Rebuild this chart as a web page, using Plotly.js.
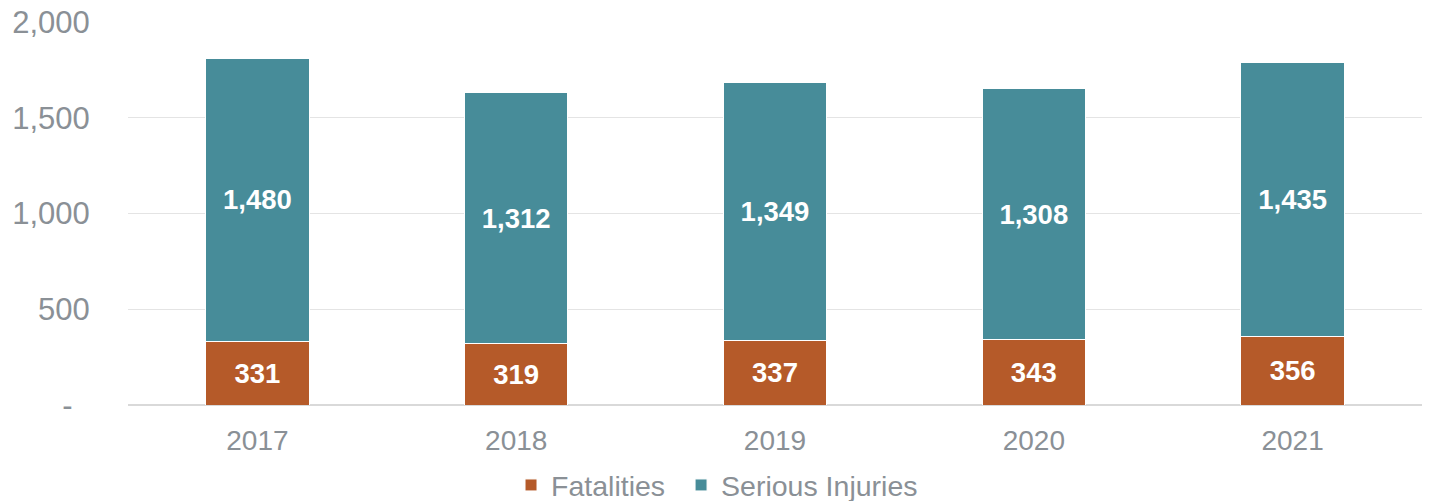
<!DOCTYPE html>
<html>
<head>
<meta charset="utf-8">
<script src="https://cdn.plot.ly/plotly-3.0.1.min.js"></script>
<style>html,body{margin:0;padding:0;background:#fff;}#chart{width:1429px;height:501px;}</style>
</head>
<body>
<div id="chart"></div>
<script>
var years = ["2017", "2018", "2019", "2020", "2021"];
var fatalities = [331, 319, 337, 343, 356];
var seriousInjuries = [1480, 1312, 1349, 1308, 1435];
var yTickVals = [0, 500, 1000, 1500, 2000];
var yTickText = ["-\u00a0\u00a0", "500", "1,000", "1,500", "2,000"];

function fmt(v){ return v.toLocaleString("en-US"); }

var labelFont = {family: "Liberation Sans, Arial, sans-serif", size: 27.5, color: "#ffffff", weight: "bold"};

var traces = [
  {
    type: "bar", name: "Fatalities", x: years, y: fatalities, legend: "legend",
    marker: {color: "#B55A29", line: {color: "#ffffff", width: 1}},
    text: fatalities.map(function(v){return "<b>"+fmt(v)+"</b>";}),
    textposition: "inside", insidetextanchor: "middle", textangle: 0,
    textfont: labelFont, hoverinfo: "skip"
  },
  {
    type: "bar", name: "Serious Injuries", x: years, y: seriousInjuries, legend: "legend2",
    marker: {color: "#478C99", line: {color: "#ffffff", width: 1}},
    text: seriousInjuries.map(function(v){return "<b>"+fmt(v)+"</b>";}),
    textposition: "inside", insidetextanchor: "middle", textangle: 0,
    textfont: labelFont, hoverinfo: "skip"
  }
];

var legendBase = {orientation: "h", xanchor: "left", y: -0.21, yanchor: "middle",
                  font: {size: 28.5, color: "#8A9096"}, itemwidth: 30, bgcolor: "rgba(0,0,0,0)"};

var layout = {
  width: 1429, height: 501,
  margin: {l: 128, r: 7, t: 22, b: 96, pad: 0, autoexpand: false},
  barmode: "stack",
  bargap: 0.6,
  paper_bgcolor: "#ffffff", plot_bgcolor: "#ffffff",
  font: {family: "Liberation Sans, Arial, sans-serif", color: "#8A9096"},
  showlegend: true,
  legend: Object.assign({}, legendBase, {x: 0.296}),
  legend2: Object.assign({}, legendBase, {x: 0.4274}),
  xaxis: {
    type: "category", showgrid: false, zeroline: false, showline: false,
    ticks: "outside", ticklen: 10, tickcolor: "rgba(0,0,0,0)",
    tickfont: {size: 28, color: "#8A9096"}
  },
  yaxis: {
    range: [0, 2000], tickvals: yTickVals, ticktext: yTickText,
    showgrid: true, gridcolor: "#E4E4E4", gridwidth: 1,
    zeroline: true, zerolinecolor: "#D9D9D9", zerolinewidth: 1.5,
    showline: false, ticks: "outside", ticklen: 31, tickcolor: "rgba(0,0,0,0)",
    tickfont: {size: 31, color: "#8A9096"}
  }
};

Plotly.newPlot("chart", traces, layout, {displayModeBar: false, staticPlot: true});
</script>
</body>
</html>
